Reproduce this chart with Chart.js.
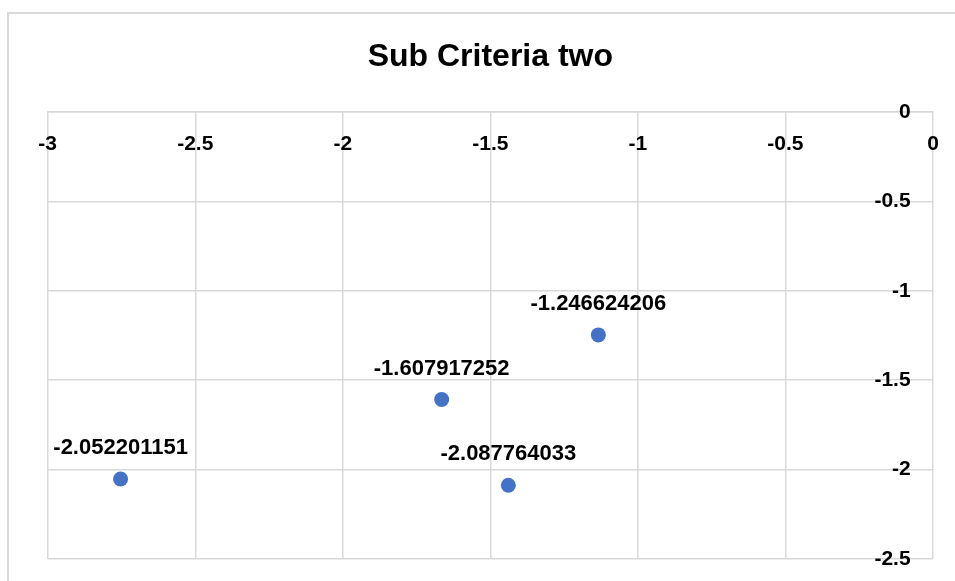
<!DOCTYPE html>
<html>
<head>
<meta charset="utf-8">
<script src="https://cdn.jsdelivr.net/npm/chart.js@4/dist/chart.umd.min.js"></script>
<style>
  html, body { margin: 0; padding: 0; background: #ffffff; overflow: hidden; }
  #wrap { position: relative; width: 955px; height: 581px; }
  #frame { position: absolute; left: 7px; top: 12px; width: 2000px; height: 2000px;
           border-left: 2px solid #d9d9d9; border-top: 2px solid #d9d9d9; pointer-events: none; }
  canvas { position: absolute; left: 0; top: 0; }
</style>
</head>
<body>
<div id="wrap">
  <div id="frame"></div>
  <canvas id="c" width="955" height="581"></canvas>
</div>
<script>
const chartTitle = 'Sub Criteria two';
const xValues = [-2.753, -1.665, -1.439, -1.134];
const yValues = [-2.052201151, -1.607917252, -2.087764033, -1.246624206];
const pointLabels = ['-2.052201151', '-1.607917252', '-2.087764033', '-1.246624206'];
const xRange = [-3, 0];
const yRange = [-2.5, 0];
const tickStep = 0.5;

const FONT = '"Liberation Sans", Arial, sans-serif';
const GRID = '#d9d9d9';
// y-axis labels sit a little inside the right edge (value axis crosses at x = 0)
const yLabelCross = -0.076;

const points = xValues.map((x, i) => ({ x: x, y: yValues[i] }));
const fmt = v => String(Number(v.toFixed(2)));
const noEdgePadding = scale => {
  scale.paddingLeft = 0; scale.paddingRight = 0;
  scale.paddingTop = 0; scale.paddingBottom = 0;
};

const labelPlugin = {
  id: 'pointValueLabels',
  afterDatasetsDraw(chart) {
    const ctx = chart.ctx;
    chart.data.datasets.forEach((ds, i) => {
      const meta = chart.getDatasetMeta(i);
      meta.data.forEach((el, j) => {
        ctx.save();
        ctx.font = 'bold 22px ' + FONT;
        ctx.fillStyle = '#000000';
        ctx.textAlign = 'center';
        ctx.textBaseline = 'middle';
        ctx.fillText(pointLabels[j], el.x, el.y - 31);
        ctx.restore();
      });
    });
  }
};

new Chart(document.getElementById('c'), {
  type: 'scatter',
  data: {
    datasets: [{
      label: chartTitle,
      data: points,
      backgroundColor: '#4472C4',
      borderColor: '#4472C4',
      pointRadius: 7.5,
      pointHoverRadius: 7.5,
      borderWidth: 0
    }]
  },
  options: {
    responsive: false,
    animation: false,
    events: [],
    layout: { padding: { left: 47.7, right: 22, top: 0, bottom: 22 } },
    plugins: {
      legend: { display: false },
      tooltip: { enabled: false },
      title: {
        display: true,
        text: chartTitle,
        color: '#000000',
        font: { family: FONT, size: 32, weight: 'bold', lineHeight: 1.2 },
        padding: { top: 38.3, bottom: 35.3 }
      }
    },
    scales: {
      x: {
        type: 'linear',
        position: { y: 0 },
        min: xRange[0],
        max: xRange[1],
        afterFit: noEdgePadding,
        ticks: {
          stepSize: tickStep,
          color: '#000000',
          padding: 20,
          font: { family: FONT, size: 21, weight: 'bold' },
          maxRotation: 0,
          callback: fmt
        },
        grid: { color: GRID, lineWidth: 1.5, drawTicks: false },
        border: { color: GRID, width: 1.5 }
      },
      y: {
        type: 'linear',
        position: { x: yLabelCross },
        min: yRange[0],
        max: yRange[1],
        afterFit: noEdgePadding,
        ticks: {
          stepSize: tickStep,
          color: '#000000',
          font: { family: FONT, size: 21, weight: 'bold' },
          callback: fmt
        },
        grid: { color: GRID, lineWidth: 1.5, drawTicks: false },
        border: { display: false }
      }
    }
  },
  plugins: [labelPlugin]
});
</script>
</body>
</html>
